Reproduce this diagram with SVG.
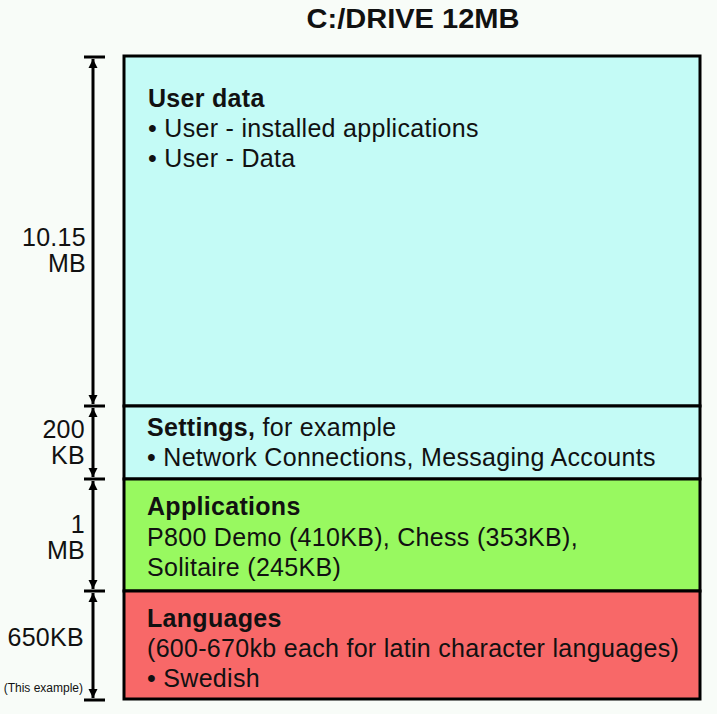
<svg xmlns="http://www.w3.org/2000/svg" width="717" height="714" viewBox="0 0 717 714">
<style>
text{font-family:"Liberation Sans",Arial,sans-serif;fill:#111;font-size:25px;letter-spacing:0.3px}
.b{font-weight:bold}
.lbl{text-anchor:end}
.sm{font-size:12px;letter-spacing:0}
.ttl{font-size:27px;font-weight:bold;text-anchor:middle;letter-spacing:0}
.box{stroke:#000;stroke-width:3}
.dim{stroke:#000;stroke-width:3;fill:none}
.tick{stroke:#000;stroke-width:3}
</style>
<defs>
<marker id="ah" viewBox="0 0 10 10" refX="10" refY="5" markerWidth="3" markerHeight="3.5" orient="auto-start-reverse" markerUnits="strokeWidth">
<path d="M0,0 L10,5 L0,10 z" fill="#000"/>
</marker>
</defs>
<rect width="717" height="714" fill="#f8fcf8"/>
<text x="413" y="28" class="ttl" textLength="213" lengthAdjust="spacingAndGlyphs">C:/DRIVE 12MB</text>
<g id="userdata">
<rect class="box" x="124" y="56" width="576" height="350" fill="#c4fbf6"/>
<text x="148" y="107" class="b">User data</text>
<text x="148" y="137">• User - installed applications</text>
<text x="148" y="167">• User - Data</text>
</g>
<g id="settings">
<rect class="box" x="124" y="406" width="576" height="73" fill="#c4fbf6"/>
<text x="147" y="436"><tspan class="b">Settings,</tspan> for example</text>
<text x="147" y="466">• Network Connections, Messaging Accounts</text>
</g>
<g id="applications">
<rect class="box" x="124" y="479" width="576" height="112" fill="#98f960"/>
<text x="147" y="515" class="b">Applications</text>
<text x="147" y="546">P800 Demo (410KB), Chess (353KB),</text>
<text x="147" y="576">Solitaire (245KB)</text>
</g>
<g id="languages">
<rect class="box" x="124" y="591" width="576" height="108" fill="#f86868"/>
<text x="147" y="627" class="b">Languages</text>
<text x="147" y="657">(600-670kb each for latin character languages)</text>
<text x="147" y="687">• Swedish</text>
</g>
<g id="connectors">
<line class="tick" x1="84" y1="57" x2="105" y2="57"/>
<line class="tick" x1="84" y1="406" x2="105" y2="406"/>
<line class="tick" x1="84" y1="479" x2="105" y2="479"/>
<line class="tick" x1="84" y1="591" x2="105" y2="591"/>
<line class="tick" x1="84" y1="700" x2="105" y2="700"/>
<line class="dim" x1="93" y1="59" x2="93" y2="404" marker-start="url(#ah)" marker-end="url(#ah)"/>
<line class="dim" x1="93" y1="408" x2="93" y2="477" marker-start="url(#ah)" marker-end="url(#ah)"/>
<line class="dim" x1="93" y1="481" x2="93" y2="589" marker-start="url(#ah)" marker-end="url(#ah)"/>
<line class="dim" x1="93" y1="593" x2="93" y2="698" marker-start="url(#ah)" marker-end="url(#ah)"/>
</g>
<g id="labels">
<text x="86" y="246" class="lbl">10.15</text>
<text x="86" y="272" class="lbl">MB</text>
<text x="85" y="438" class="lbl">200</text>
<text x="85" y="464" class="lbl">KB</text>
<text x="85" y="533" class="lbl">1</text>
<text x="85" y="559" class="lbl">MB</text>
<text x="84" y="646" class="lbl">650KB</text>
<text x="83" y="692" class="lbl sm">(This example)</text>
</g>
</svg>
